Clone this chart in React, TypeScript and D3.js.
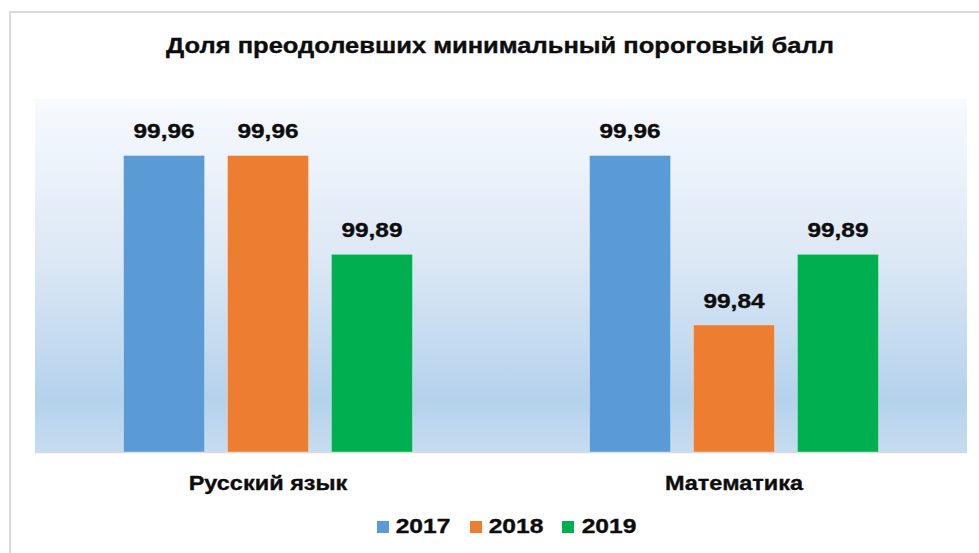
import React from "react";
import * as d3 from "d3";

const categories = ["Русский язык", "Математика"];
const years = ["2017", "2018", "2019"];
const values2017 = [99.96, 99.96];
const values2018 = [99.96, 99.84];
const values2019 = [99.89, 99.89];
const seriesValues = [values2017, values2018, values2019];
const colors = ["#5b9bd5", "#ed7d31", "#00b050"];
const yDomain = [99.75, 100];
const title = "Доля преодолевших минимальный пороговый балл";

const W = 979;
const H = 553;
const plot = { left: 35, right: 967, top: 99, bottom: 452 };
const FONT = "'Liberation Sans', Arial, sans-serif";

function fmt(v: number) {
  return v.toFixed(2).replace(".", ",");
}

function SText({ x, y, size, sx, children }: any) {
  return (
    <text
      transform={`translate(${x},${y}) scale(${sx},1)`}
      textAnchor="middle"
      fontFamily={FONT}
      fontWeight="bold"
      fontSize={size}
      fill="#0d0d0d"
      stroke="#0d0d0d"
      strokeWidth={0.35}
    >
      {children}
    </text>
  );
}

export default function App() {
  const x0 = d3.scaleBand<string>().domain(categories).range([plot.left, plot.right]).padding(0);
  const groupW = 289;
  const x1 = d3.scaleBand<string>().domain(years).range([0, groupW]).paddingInner(0.22).paddingOuter(0);
  const y = d3.scaleLinear().domain(yDomain).range([plot.bottom, plot.top]);

  const legendItems = [
    { x: 377, tx: 423 },
    { x: 470, tx: 516 },
    { x: 562, tx: 609 },
  ];

  return (
    <svg
      width={W}
      height={H}
      style={{ position: "absolute", left: 0, top: 0, background: "#fff" }}
    >
      <defs>
        <linearGradient id="bg" x1="0" y1="0" x2="0" y2="1">
          <stop offset="0" stopColor="#f7fafe" />
          <stop offset="0.45" stopColor="#dce8f5" />
          <stop offset="0.85" stopColor="#b4d2ec" />
          <stop offset="1" stopColor="#c6dcf0" />
        </linearGradient>
      </defs>
      <rect x={10} y={12} width={1100} height={700} fill="#fff" stroke="#d9d9d9" strokeWidth={2} />
      <SText x={500} y={53} size={22} sx={1.16}>{title}</SText>
      <rect
        x={plot.left}
        y={plot.top}
        width={plot.right - plot.left}
        height={plot.bottom - plot.top}
        fill="url(#bg)"
      />
      <line x1={plot.left} x2={plot.right} y1={plot.bottom + 0.5} y2={plot.bottom + 0.5} stroke="#d9d9d9" strokeWidth={1.5} />
      {categories.map((c, ci) => {
        const gx = (x0(c) as number) + x0.bandwidth() / 2 - groupW / 2;
        return (
          <g key={c}>
            {years.map((yr, si) => {
              const v = seriesValues[si][ci];
              const bx = gx + (x1(yr) as number);
              const by = y(v);
              return (
                <g key={yr}>
                  <rect
                    x={bx}
                    y={by}
                    width={x1.bandwidth()}
                    height={plot.bottom - by}
                    fill={colors[si]}
                    stroke="#ffffff"
                    strokeOpacity={0.35}
                    strokeWidth={1}
                  />
                  <SText x={bx + x1.bandwidth() / 2} y={by - 17} size={20} sx={1.22}>
                    {fmt(v)}
                  </SText>
                </g>
              );
            })}
            <SText x={(x0(c) as number) + x0.bandwidth() / 2} y={490} size={21} sx={1.12}>
              {c}
            </SText>
          </g>
        );
      })}
      {years.map((yr, i) => (
        <g key={yr}>
          <rect x={legendItems[i].x} y={521} width={12} height={12} fill={colors[i]} />
          <SText x={legendItems[i].tx} y={533} size={20.5} sx={1.2}>{yr}</SText>
        </g>
      ))}
    </svg>
  );
}
